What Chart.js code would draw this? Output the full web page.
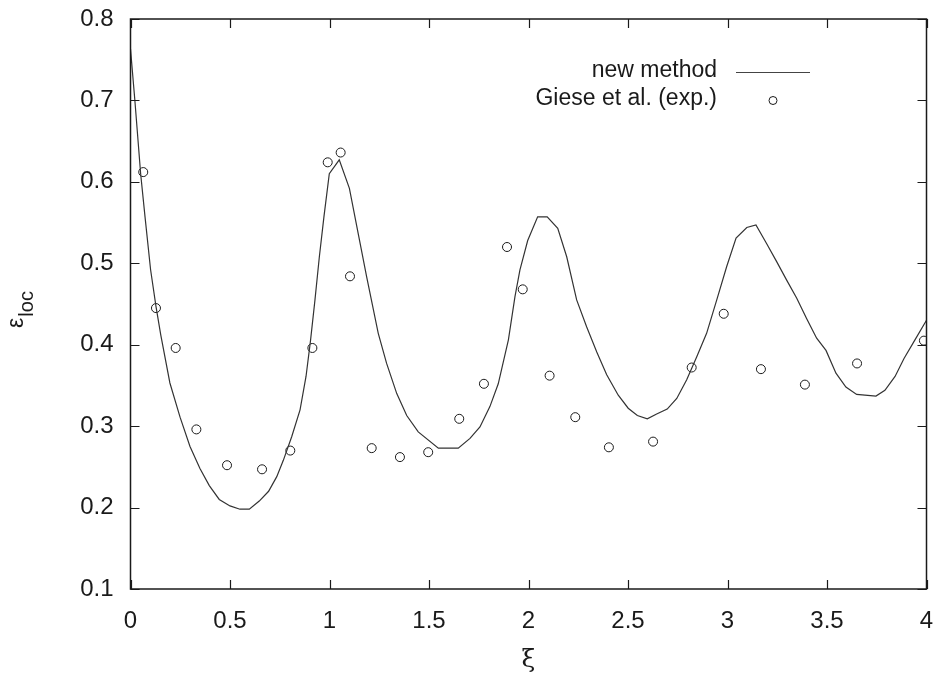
<!DOCTYPE html>
<html>
<head>
<meta charset="utf-8">
<script src="https://cdn.jsdelivr.net/npm/chart.js"></script>
<style>
  html, body { margin: 0; padding: 0; background: #fff; }
  #wrap { width: 937px; height: 675px; }
</style>
</head>
<body>
<div id="wrap"><canvas id="chart"></canvas></div>
<script>
// computed curve ("new method")
const lineX = [0, 0.022, 0.051, 0.073, 0.101, 0.128, 0.152, 0.198, 0.249, 0.299, 0.349, 0.396, 0.446, 0.5, 0.55, 0.597,
  0.647, 0.694, 0.735, 0.768, 0.81, 0.852, 0.882, 0.905, 0.927, 0.949, 0.972, 0.999, 1.049, 1.1, 1.147, 1.187,
  1.245, 1.287, 1.338, 1.388, 1.446, 1.547, 1.647, 1.706, 1.756, 1.806, 1.848, 1.899, 1.932, 1.957, 1.996, 2.046,
  2.094, 2.147, 2.192, 2.242, 2.292, 2.343, 2.393, 2.451, 2.501, 2.547, 2.597, 2.644, 2.697, 2.745, 2.795, 2.845,
  2.895, 2.946, 2.996, 3.043, 3.097, 3.143, 3.197, 3.247, 3.298, 3.348, 3.398, 3.448, 3.495, 3.545, 3.595, 3.649,
  3.746, 3.791, 3.842, 3.887, 3.942, 4.0];
const lineY = [0.763, 0.700, 0.610, 0.557, 0.492, 0.447, 0.412, 0.353, 0.311, 0.275, 0.248, 0.227, 0.210, 0.202, 0.198, 0.198,
  0.208, 0.220, 0.238, 0.258, 0.287, 0.320, 0.361, 0.406, 0.455, 0.508, 0.557, 0.610, 0.627, 0.592, 0.533, 0.483,
  0.414, 0.377, 0.340, 0.313, 0.293, 0.273, 0.273, 0.285, 0.299, 0.324, 0.352, 0.406, 0.459, 0.492, 0.528, 0.557,
  0.557, 0.543, 0.508, 0.455, 0.422, 0.391, 0.363, 0.338, 0.322, 0.313, 0.309, 0.315, 0.321, 0.334, 0.357, 0.385,
  0.414, 0.455, 0.496, 0.531, 0.544, 0.547, 0.524, 0.502, 0.479, 0.457, 0.432, 0.408, 0.393, 0.365, 0.348, 0.339,
  0.337, 0.344, 0.361, 0.383, 0.406, 0.430];

// measurements (Giese et al.)
const expX = [0.064, 0.128, 0.227, 0.331, 0.485, 0.661, 0.803, 0.914, 0.991, 1.056, 1.103, 1.212, 1.354, 1.496,
  1.652, 1.776, 1.892, 1.971, 2.106, 2.235, 2.404, 2.626, 2.820, 2.981, 3.168, 3.389, 3.651, 3.987];
const expY = [0.612, 0.445, 0.396, 0.296, 0.252, 0.247, 0.270, 0.396, 0.624, 0.636, 0.484, 0.273, 0.262, 0.268,
  0.309, 0.352, 0.520, 0.468, 0.362, 0.311, 0.274, 0.281, 0.372, 0.438, 0.370, 0.351, 0.377, 0.405];

const seriesNames = ['new method', 'Giese et al. (exp.)'];
const xTicks = [0, 0.5, 1, 1.5, 2, 2.5, 3, 3.5, 4];
const yTicks = [0.1, 0.2, 0.3, 0.4, 0.5, 0.6, 0.7, 0.8];

const FONT = "'Liberation Sans', Arial, sans-serif";
const INK = '#1a1a1a';

const framePlugin = {
  id: 'frame',
  afterDraw(chart) {
    const ctx = chart.ctx;
    const a = chart.chartArea;
    const xs = chart.scales.x, ys = chart.scales.y;
    ctx.save();
    ctx.strokeStyle = INK;
    ctx.lineWidth = 1.5;
    ctx.strokeRect(a.left, a.top, a.right - a.left, a.bottom - a.top);
    ctx.lineWidth = 1.2;
    const tl = 9;
    ctx.beginPath();
    xTicks.forEach(v => {
      const p = Math.round(xs.getPixelForValue(v)) + 0.5;
      ctx.moveTo(p, a.bottom); ctx.lineTo(p, a.bottom - tl);
      ctx.moveTo(p, a.top); ctx.lineTo(p, a.top + tl);
    });
    yTicks.forEach(v => {
      const p = Math.round(ys.getPixelForValue(v)) + 0.5;
      ctx.moveTo(a.left, p); ctx.lineTo(a.left + tl, p);
      ctx.moveTo(a.right, p); ctx.lineTo(a.right - tl, p);
    });
    ctx.stroke();

    // y axis title: epsilon with subscript, rotated
    ctx.fillStyle = INK;
    ctx.translate(15, 310);
    ctx.rotate(-Math.PI / 2);
    ctx.textBaseline = 'alphabetic';
    ctx.font = '23px ' + FONT;
    const wE = ctx.measureText('ε').width;
    ctx.font = '20px ' + FONT;
    const wS = ctx.measureText('loc').width;
    const x0 = -(wE + wS) / 2;
    ctx.font = '23px ' + FONT;
    ctx.textAlign = 'left';
    ctx.fillText('ε', x0, 8);
    ctx.font = '20px ' + FONT;
    ctx.fillText('loc', x0 + wE + 1, 18);
    ctx.restore();

    // key, gnuplot style: text right-aligned, sample to the right
    ctx.save();
    ctx.font = '23px ' + FONT;
    ctx.fillStyle = INK;
    ctx.textAlign = 'right';
    ctx.textBaseline = 'middle';
    ctx.fillText(seriesNames[0], 717, 71);
    ctx.fillText(seriesNames[1], 717, 99);
    ctx.strokeStyle = '#444';
    ctx.lineWidth = 1.2;
    ctx.beginPath();
    ctx.moveTo(736, 72.5); ctx.lineTo(810, 72.5);
    ctx.stroke();
    ctx.strokeStyle = INK;
    ctx.lineWidth = 1;
    ctx.beginPath();
    ctx.arc(773, 100.5, 4, 0, Math.PI * 2);
    ctx.stroke();
    ctx.restore();
  }
};

new Chart(document.getElementById('chart'), {
  type: 'scatter',
  data: {
    datasets: [
      {
        label: seriesNames[0],
        data: lineX.map((x, i) => ({ x: x, y: lineY[i] })),
        showLine: true,
        borderColor: '#333',
        borderWidth: 1.2,
        pointRadius: 0,
        tension: 0,
        fill: false
      },
      {
        label: seriesNames[1],
        data: expX.map((x, i) => ({ x: x, y: expY[i] })),
        showLine: false,
        pointStyle: 'circle',
        pointRadius: 4.5,
        pointBorderWidth: 1,
        borderColor: INK,
        backgroundColor: 'rgba(0,0,0,0)'
      }
    ]
  },
  options: {
    responsive: true,
    maintainAspectRatio: false,
    animation: false,
    layout: { padding: { left: 0, right: 10.5, top: 19, bottom: 0 } },
    plugins: {
      legend: { display: false },
      tooltip: { enabled: false }
    },
    scales: {
      x: {
        type: 'linear',
        min: 0,
        max: 4,
        afterFit(s) {
          s.height = 86;
          s.paddingLeft = 0; s.paddingRight = 0;
        },
        afterBuildTicks(s) { s.ticks = xTicks.map(v => ({ value: v })); },
        grid: { display: false, drawTicks: false },
        border: { display: false },
        ticks: {
          padding: 18,
          color: INK,
          font: { family: FONT, size: 24 },
          maxRotation: 0,
          callback: v => String(v)
        },
        title: {
          display: true,
          text: 'ξ',
          color: INK,
          padding: 0,
          font: { family: "'DejaVu Serif', serif", size: 25 }
        }
      },
      y: {
        type: 'linear',
        min: 0.1,
        max: 0.8,
        afterFit(s) {
          s.width = 130.5;
          s.paddingTop = 0; s.paddingBottom = 0;
        },
        afterBuildTicks(s) { s.ticks = yTicks.map(v => ({ value: v })); },
        grid: { display: false, drawTicks: false },
        border: { display: false },
        ticks: {
          padding: 17,
          color: INK,
          font: { family: FONT, size: 24 },
          callback: v => v.toFixed(1)
        }
      }
    }
  },
  plugins: [framePlugin]
});
</script>
</body>
</html>
